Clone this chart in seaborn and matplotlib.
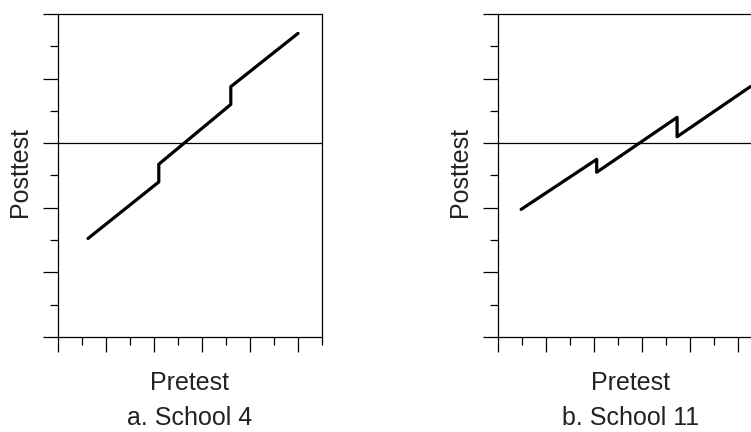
import numpy as np
import pandas as pd
import matplotlib.pyplot as plt
import seaborn as sns
from matplotlib.ticker import MultipleLocator, NullFormatter

sns.set_style("ticks")
plt.rcParams["font.family"] = ["Liberation Sans", "DejaVu Sans"]

# pretest / posttest regression lines
school4_pre = [1.25, 4.2, 4.2, 7.2, 7.2, 10.0]
school4_post = [3.05, 4.8, 5.35, 7.2, 7.75, 9.4]

school11_pre = [0.95, 4.1, 4.1, 7.45, 7.45, 10.5]
school11_post = [3.95, 5.5, 5.1, 6.8, 6.2, 7.75]

cutoff = 6.0
x_max = 11
y_max = 10

panels = [
    ("a. School 4", school4_pre, school4_post),
    ("b. School 11", school11_pre, school11_post),
]

W, H = 751, 432
fig = plt.figure(figsize=(W / 100, H / 100), dpi=100)

# axes boxes in pixels: left, bottom(from top), width, height
boxes = [(58, 337, 264, 323), (498.3, 337, 264, 323)]

for (title, pre, post), (l, b, w, h) in zip(panels, boxes):
    ax = fig.add_axes([l / W, (H - b) / H, w / W, h / H])
    df = pd.DataFrame({"Pretest": pre, "Posttest": post})
    sns.lineplot(data=df, x="Pretest", y="Posttest", sort=False, estimator=None,
                 color="black", linewidth=2.3, ax=ax)
    ax.axhline(cutoff, color="black", linewidth=0.9)

    ax.set_xlim(0, x_max)
    ax.set_ylim(0, y_max)
    ax.xaxis.set_major_locator(MultipleLocator(2))
    ax.xaxis.set_minor_locator(MultipleLocator(1))
    ax.yaxis.set_major_locator(MultipleLocator(2))
    ax.yaxis.set_minor_locator(MultipleLocator(1))
    ax.xaxis.set_major_formatter(NullFormatter())
    ax.yaxis.set_major_formatter(NullFormatter())
    ax.tick_params(which="major", direction="out", length=10.8, width=0.9, color="black")
    ax.tick_params(which="minor", direction="out", length=5.8, width=0.9, color="black")

    for sp in ax.spines.values():
        sp.set_visible(True)
        sp.set_linewidth(0.9)
        sp.set_color("black")

    ax.set_xlabel("Pretest", fontsize=18, color="#222222")
    ax.xaxis.label.set_va("baseline")
    ax.xaxis.set_label_coords(0.5, (337 - 390) / 323)
    ax.set_ylabel("Posttest", fontsize=18, color="#222222")
    ax.yaxis.label.set_va("baseline")
    ax.yaxis.set_label_coords((27 - 58) / 264, 0.51)

    ax.text(0.5, (337 - 425) / 323, title, transform=ax.transAxes,
            ha="center", va="baseline", fontsize=18, color="#222222")

fig.savefig("out.png", dpi=100)
